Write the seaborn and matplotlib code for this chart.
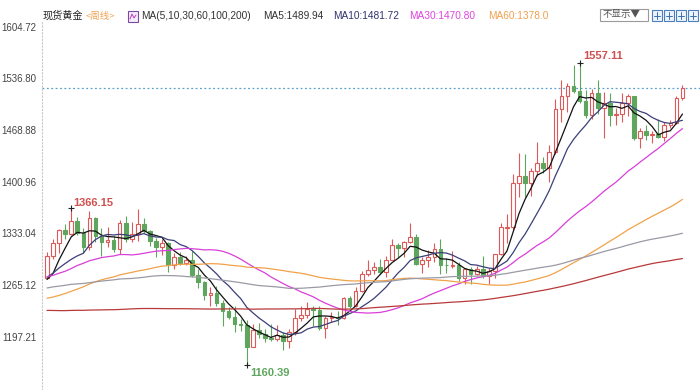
import numpy as np
import pandas as pd
import matplotlib
matplotlib.use("Agg")
import matplotlib.pyplot as plt
import seaborn as sns
from matplotlib.patches import Rectangle

# ---- weekly closes before the visible window (used only for the moving averages)
prior_2014 = [1339, 1379, 1335, 1294, 1303, 1318, 1293, 1301, 1302, 1290, 1293, 1292, 1245,
              1252, 1274, 1316, 1317, 1320, 1337, 1310, 1307, 1294, 1309, 1305, 1280, 1287,
              1268, 1230, 1216, 1218, 1192, 1222, 1238, 1231, 1171, 1177, 1187, 1201, 1175,
              1191, 1222, 1195, 1195]
prior_2015 = [1186, 1216, 1276, 1293, 1283, 1234, 1227, 1203, 1213, 1167, 1152, 1182, 1199,
              1201, 1205, 1203, 1178, 1174, 1189, 1225, 1205, 1189, 1168, 1179, 1201, 1173,
              1168, 1157, 1132, 1085, 1095, 1094, 1113, 1160, 1133, 1121, 1108, 1138, 1145,
              1137, 1156, 1177, 1163, 1142, 1088, 1081, 1076, 1056, 1086, 1075, 1066, 1075]
prior_2016 = [1061, 1098, 1089, 1097, 1117, 1174, 1239, 1227, 1221, 1271, 1259, 1255, 1218,
              1222, 1243, 1235, 1232, 1291, 1294, 1272, 1252, 1212, 1242, 1275, 1298, 1316,
              1339, 1366, 1327, 1322, 1350, 1335, 1336, 1341, 1321, 1327, 1328, 1310, 1338,
              1315, 1257, 1251, 1267, 1276, 1304, 1225, 1208, 1183, 1177, 1160, 1134, 1132, 1151]
prior_2017 = [1173, 1196, 1210, 1191, 1220, 1234, 1236, 1257, 1226, 1201, 1229, 1244, 1249,
              1254, 1285, 1283, 1268, 1228, 1228, 1254, 1267, 1280, 1266, 1254, 1256, 1242,
              1212, 1228, 1254, 1269, 1258, 1289, 1284, 1291, 1325, 1347, 1320, 1297, 1280,
              1274, 1303, 1280, 1266, 1269, 1274, 1294, 1288, 1280, 1248, 1256, 1275]

# ---- visible weekly candles (Dec 2017 .. Jan 2020)
opens = [1275, 1303, 1320, 1338, 1332, 1349, 1333, 1315, 1353, 1330,
         1322, 1324, 1313, 1347, 1325, 1332, 1345, 1336, 1323, 1315,
         1320, 1291, 1302, 1294, 1298, 1278, 1269, 1252, 1255, 1241,
         1231, 1223, 1214, 1212, 1184, 1206, 1201, 1196, 1194, 1199,
         1192, 1203, 1222, 1226, 1235, 1232, 1209, 1222, 1223, 1222,
         1248, 1238, 1257, 1280, 1285, 1289, 1282, 1298, 1318, 1314,
         1322, 1328, 1293, 1298, 1302, 1313, 1292, 1290, 1291, 1275,
         1286, 1279, 1286, 1277, 1284, 1306, 1340, 1341, 1399, 1409,
         1399, 1415, 1426, 1419, 1440, 1497, 1513, 1527, 1520, 1507,
         1488, 1517, 1498, 1505, 1489, 1490, 1505, 1514, 1459, 1468,
         1462, 1464, 1460, 1476, 1478, 1511]
highs = [1309, 1326, 1339, 1345, 1366.15, 1354, 1340, 1362, 1354, 1340,
         1341, 1330, 1350, 1356, 1348, 1365, 1353, 1338, 1327, 1326,
         1322, 1307, 1308, 1303, 1310, 1286, 1270, 1263, 1264, 1245,
         1236, 1237, 1220, 1219, 1214, 1215, 1207, 1214, 1212, 1204,
         1207, 1233, 1237, 1243, 1237, 1237, 1225, 1230, 1231, 1250,
         1251, 1262, 1284, 1298, 1296, 1299, 1303, 1326, 1320, 1323,
         1346, 1332, 1302, 1311, 1320, 1325, 1300, 1310, 1296, 1288,
         1289, 1290, 1303, 1287, 1306, 1347, 1358, 1411, 1439, 1437,
         1419, 1453, 1434, 1449, 1510, 1535, 1531, 1555, 1557.11, 1521,
         1523, 1535, 1519, 1517, 1498, 1517, 1516, 1514, 1472, 1476,
         1467, 1484, 1480, 1482, 1514, 1528]
lows = [1275, 1299, 1307, 1326, 1331, 1331, 1307, 1311, 1322, 1303,
        1315, 1309, 1306, 1322, 1322, 1323, 1333, 1316, 1302, 1305,
        1282, 1286, 1292, 1291, 1276, 1261, 1246, 1237, 1238, 1211,
        1221, 1204, 1205, 1160.39, 1183, 1195, 1190, 1192, 1192, 1180,
        1182, 1200, 1218, 1222, 1211, 1206, 1196, 1217, 1212, 1221,
        1235, 1236, 1256, 1277, 1279, 1279, 1276, 1298, 1302, 1302,
        1320, 1291, 1281, 1289, 1295, 1280, 1281, 1287, 1270, 1266,
        1267, 1278, 1274, 1266, 1274, 1305, 1321, 1337, 1381, 1381,
        1382, 1408, 1413, 1400, 1438, 1480, 1492, 1518, 1504, 1485,
        1484, 1490, 1459, 1474, 1476, 1480, 1487, 1456, 1445, 1456,
        1452, 1458, 1455, 1472, 1477, 1509]
closes = [1303, 1320, 1338, 1332, 1349, 1333, 1315, 1353, 1330, 1322,
          1324, 1313, 1347, 1325, 1332, 1345, 1336, 1323, 1315, 1320,
          1291, 1302, 1294, 1298, 1278, 1269, 1252, 1255, 1241, 1231,
          1223, 1214, 1212, 1184, 1206, 1201, 1196, 1194, 1199, 1192,
          1203, 1222, 1226, 1233, 1232, 1209, 1222, 1223, 1222, 1248,
          1238, 1257, 1280, 1285, 1289, 1282, 1298, 1318, 1314, 1322,
          1328, 1293, 1298, 1302, 1313, 1292, 1291, 1291, 1275, 1286,
          1279, 1286, 1277, 1284, 1306, 1341, 1341, 1399, 1409, 1399,
          1415, 1426, 1419, 1440, 1497, 1513, 1527, 1520, 1507, 1488,
          1517, 1498, 1505, 1489, 1490, 1505, 1514, 1459, 1468, 1462,
          1464, 1460, 1476, 1478, 1511, 1524.7]

ma_periods = [5, 10, 30, 60, 100, 200]
ma_colors = ["#111111", "#3b3f78", "#d93fd9", "#f0a24a", "#9a9aa6", "#b8393a"]
tick_values = [1197.21, 1265.12, 1333.04, 1400.96, 1468.88, 1536.80, 1604.72]
tick_labels = ["1197.21", "1265.12", "1333.04", "1400.96", "1468.88", "1536.80", "1604.72"]
last_price = 1524.7
header_items = [("MA(5,10,30,60,100,200)", "#333333", 141),
                ("MA5:1489.94", "#333333", 263),
                ("MA10:1481.72", "#33336e", 333),
                ("MA30:1470.80", "#dd44dd", 409),
                ("MA60:1378.0", "#f0a050", 488)]

UP = "#dc5a5a"
DOWN = "#5ea65e"

sns.set_theme(style="white")
plt.rcParams['font.family'] = ['Liberation Sans', 'Noto Sans CJK SC', 'DejaVu Sans']

fig = plt.figure(figsize=(7, 3.9), dpi=100)
fig.patch.set_facecolor("white")
W, H = 700.0, 390.0
ax = fig.add_axes([42 / W, 0, (W - 42) / W, (H - 22) / H])

df = pd.DataFrame({"o": opens, "h": highs, "l": lows, "c": closes})
df["i"] = np.arange(len(df))
up = df["c"] >= df["o"]
col = np.where(up, UP, DOWN)
face = np.where(up, "white", DOWN)

# wicks
ax.vlines(df["i"], df["l"], df["h"], colors=col, lw=0.8, zorder=2)
# bodies
body_bottom = np.minimum(df["o"], df["c"])
body_h = np.maximum(np.abs(df["c"] - df["o"]), 0.6)
ax.bar(df["i"], body_h, bottom=body_bottom, width=0.6, color=face,
       edgecolor=col, linewidth=0.8, zorder=2.5)

# moving averages
all_closes = pd.Series(prior_2014 + prior_2015 + prior_2016 + prior_2017 + closes)
n_prior = len(all_closes) - len(closes)
for p, c in zip(ma_periods, ma_colors):
    ma = all_closes.rolling(p).mean().iloc[n_prior:].to_numpy()
    sns.lineplot(x=df["i"].to_numpy(), y=ma, ax=ax, color=c, lw=0.9, zorder=3)

# last price line
ax.axhline(last_price, color="#5aa0cc", lw=0.9, ls=(0, (1.5, 2.0)), zorder=1)

# extremes
hi_i = int(np.argmax(highs[:30]))
hi2_i = int(np.argmax(highs))
lo_i = int(np.argmin(lows))
for i, v, txt, colr, off, va in [
        (hi_i, highs[hi_i], "1366.15", "#d05050", (2, 0), "bottom"),
        (hi2_i, highs[hi2_i], "1557.11", "#d05050", (4, 2), "bottom"),
        (lo_i, lows[lo_i], "1160.39", "#5ea65e", (4, -3), "top")]:
    ax.plot([i], [v], marker="+", ms=5, mew=0.8, color="#222222", zorder=4)
    ax.annotate(txt, (i, v), xytext=off, textcoords="offset pixels",
                color=colr, fontsize=8, fontweight="bold", ha="left", va=va)

ax.set_xlim(-0.83, 107.9)
ax.set_ylim(1127.1, 1610.9)
ax.set_yticks(tick_values)
ax.set_yticklabels(tick_labels)
ax.tick_params(axis="y", length=0, pad=4, labelsize=7, labelcolor="#444444")
ax.set_xticks([])
ax.set_xlabel("")
ax.set_ylabel("")
for s in ["top", "right", "bottom"]:
    ax.spines[s].set_visible(False)
ax.spines["left"].set_color("#c8c8c8")
ax.spines["left"].set_linestyle((0, (1, 2)))
ax.spines["left"].set_linewidth(0.8)

# header
def fx(x):
    return x / W

def fy(y):
    return 1 - y / H

fig.text(fx(43), fy(16), "现货黄金", fontsize=7.3, color="#222222", va="center",
         family=['Noto Sans CJK SC', 'DejaVu Sans'])
fig.text(fx(86), fy(16), "<周线>", fontsize=6.8, color="#f0a050", va="center",
         family=['Noto Sans CJK SC', 'DejaVu Sans'])
fig.patches.append(Rectangle((fx(128), fy(22)), 10 / W, 11 / H, transform=fig.transFigure,
                             fill=True, facecolor="#f4eefa", edgecolor="#7a4aa0", lw=0.8))
fig.lines.append(plt.Line2D([fx(130), fx(132), fx(134), fx(136)],
                            [fy(19), fy(14), fy(18), fy(15)], transform=fig.transFigure,
                            color="#c03cc0", lw=0.7))
for txt, colr, x in header_items:
    fig.text(fx(x), fy(16), txt, fontsize=7.3, color=colr, va="center")

# "不显示" button and tool icons
fig.patches.append(Rectangle((fx(600), fy(21)), 48 / W, 12 / H, transform=fig.transFigure,
                             fill=False, edgecolor="#9a9a9a", lw=0.8))
fig.text(fx(603), fy(15), "不显示▼", fontsize=6.8, color="#555555", va="center",
         family=['Noto Sans CJK SC', 'DejaVu Sans'])
for k, x0 in enumerate([652, 664, 676, 688]):
    fig.patches.append(Rectangle((fx(x0), fy(21)), 10 / W, 11 / H, transform=fig.transFigure,
                                 facecolor="#eef4fb", edgecolor="#4a7fc0", lw=0.8))
    fig.lines.append(plt.Line2D([fx(x0 + 2), fx(x0 + 8)], [fy(15.5), fy(15.5)],
                                transform=fig.transFigure, color="#3a6fb0", lw=0.7))
    fig.lines.append(plt.Line2D([fx(x0 + 5), fx(x0 + 5)], [fy(12), fy(19)],
                                transform=fig.transFigure, color="#3a6fb0", lw=0.7))

fig.savefig("out.png", dpi=100, facecolor="white")
